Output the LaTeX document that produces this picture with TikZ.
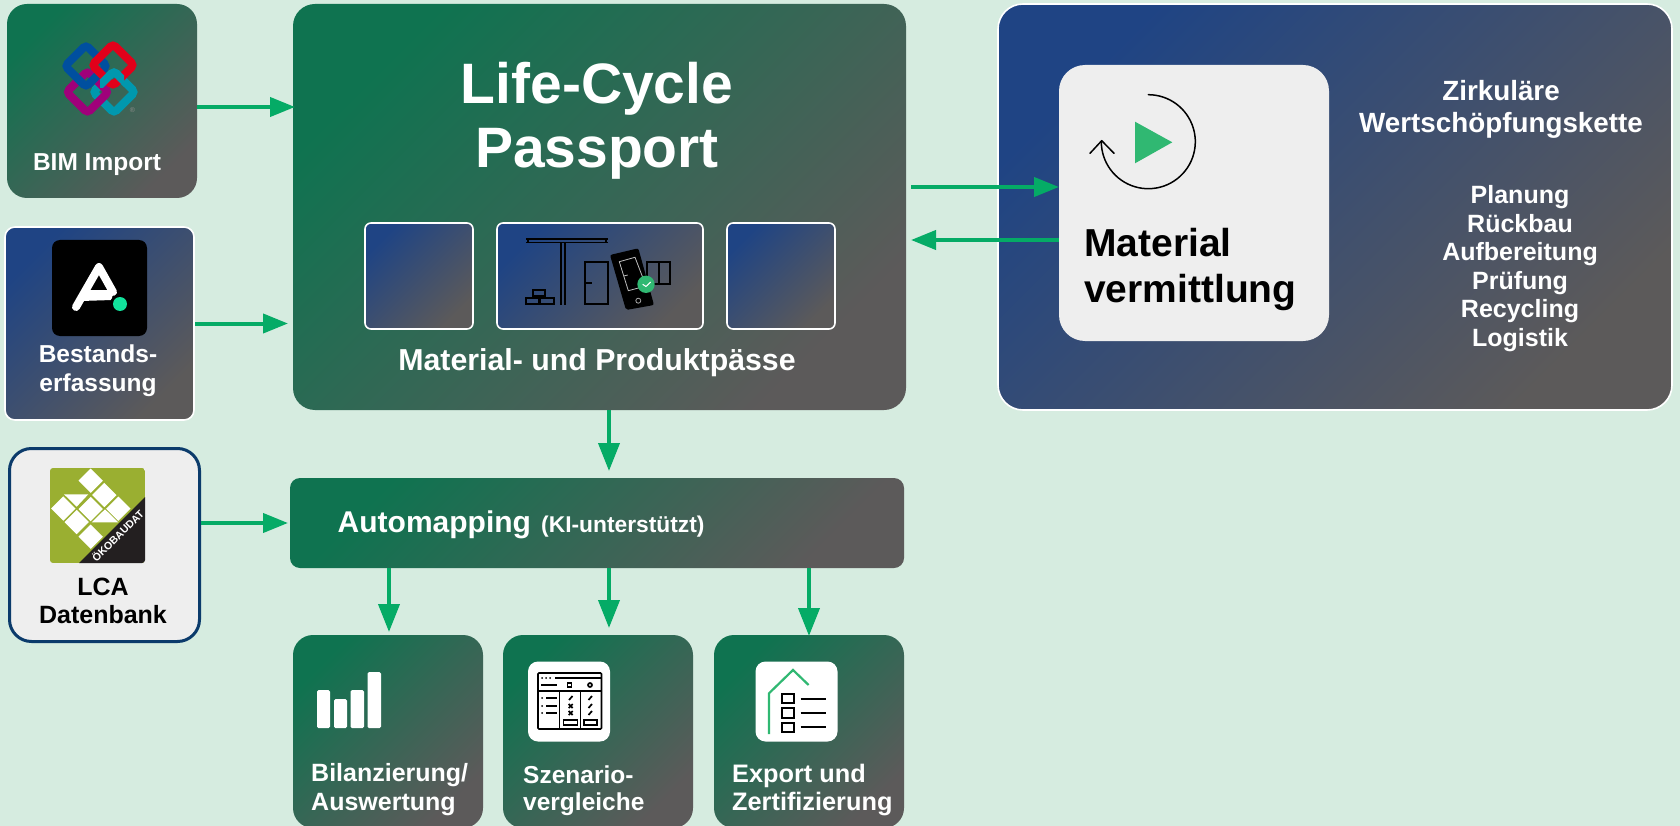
\documentclass[tikz,border=0pt]{standalone}
\usepackage{fontspec}
\setmainfont{Liberation Sans}
\usetikzlibrary{arrows.meta,calc}
\definecolor{bgc}{HTML}{D6ECE0}
\definecolor{gstart}{HTML}{0F7350}
\definecolor{gend}{HTML}{5C5A5A}
\definecolor{bstart}{HTML}{1F4484}
\definecolor{flowc}{HTML}{05AB66}
\definecolor{panel}{HTML}{EEEEEE}
\definecolor{navy}{HTML}{0B3B6B}
\definecolor{okogreen}{HTML}{9AAF31}
\definecolor{okoblack}{HTML}{231F20}
\definecolor{icongreen}{HTML}{30B872}
\definecolor{bimblue}{HTML}{004F9F}
\definecolor{bimred}{HTML}{E2001A}
\definecolor{bimpurple}{HTML}{A0007A}
\definecolor{bimteal}{HTML}{0098AE}
\definecolor{dotgreen}{HTML}{12E29C}
\tikzset{
  greenbox/.style={rectangle,rounded corners=#1,inner sep=0pt,outer sep=0pt,top color=gstart,bottom color=gend,shading angle=45},
  greenbox/.default=22pt,
  bluebox/.style={rectangle,rounded corners=#1,inner sep=0pt,outer sep=0pt,top color=bstart,bottom color=gend,shading angle=45,draw=white,line width=1.6pt},
  bluebox/.default=6pt,
  lightbox/.style={rectangle,rounded corners=26pt,inner sep=0pt,outer sep=0pt,fill=panel},
  flow/.style={draw=flowc,line width=4pt,-{Triangle[length=25pt,width=19pt]}},
  flowv/.style={draw=flowc,line width=4pt,-{Triangle[length=28pt,width=21pt]}},
  wtext/.style={text=white,font=\bfseries\fontsize{#1}{#1}\selectfont,inner sep=0pt,anchor=base},
  wtext/.default=24,
  ktext/.style={text=black,font=\bfseries\fontsize{#1}{#1}\selectfont,inner sep=0pt,anchor=base},
  bimring/.style={draw=#1,rectangle,rotate=45,minimum size=29.5pt,rounded corners=3.5pt,line width=8pt,inner sep=0pt},
  icon/.style={draw=black,line width=1.7pt},
  iconw/.style={rectangle,rounded corners=10pt,fill=white,inner sep=0pt},
  whitebar/.style={fill=white,rounded corners=1.5pt},
}
\begin{document}
\begin{tikzpicture}[x=1pt,y=-1pt]
\useasboundingbox (0,0) rectangle (1680,826);
\fill[bgc] (0,0) rectangle (1680,826);

% main boxes
\node[greenbox=20pt,minimum width=190pt,minimum height=194pt] (bim) at (102,101) {};
\node[bluebox=10pt,minimum width=189pt,minimum height=193pt] (best) at (99.5,323.5) {};
\node[rectangle,rounded corners=22pt,fill=panel,draw=navy,line width=3pt,inner sep=0pt,outer sep=0pt,minimum width=190pt,minimum height=193pt] (lca) at (104.5,545) {};
\node[greenbox=22pt,minimum width=613pt,minimum height=406pt] (lcp) at (599.5,207) {};
\node[greenbox=10pt,minimum width=614pt,minimum height=90pt] (auto) at (597,523) {};
\node[greenbox=20pt,minimum width=190pt,minimum height=193pt] (bil) at (388,731.5) {};
\node[greenbox=20pt,minimum width=190pt,minimum height=193pt] (sze) at (598,731.5) {};
\node[greenbox=20pt,minimum width=190pt,minimum height=193pt] (exp) at (809,731.5) {};
\node[bluebox=25pt,minimum width=674pt,minimum height=406pt] (circ) at (1335,207) {};
\node[lightbox,minimum width=270pt,minimum height=276pt] (mat) at (1194,203) {};
\node[bluebox=6pt,minimum width=108pt,minimum height=106pt] (pa) at (419,276) {};
\node[bluebox=6pt,minimum width=206pt,minimum height=106pt] (pb) at (600,276) {};
\node[bluebox=6pt,minimum width=108pt,minimum height=106pt] (pc) at (781,276) {};

% connectors
\coordinate (c1) at ([yshift=-6pt]bim.east);
\draw[flow,shorten >=-2pt] (c1) -- (lcp.west |- c1);
\coordinate (c2) at ([xshift=1pt]best.east);
\draw[flow,shorten >=5pt] (c2) -- (lcp.west |- c2);
\coordinate (c3) at ([yshift=22pt]lca.east);
\draw[flow,shorten >=2pt] ([xshift=1.5pt]c3) -- (auto.west |- c3);
\coordinate (c4) at ([xshift=5pt,yshift=20pt]lcp.east);
\draw[flow] (c4) -- (mat.west |- c4);
\coordinate (c5) at ([yshift=-37pt]mat.west);
\draw[flow,shorten >=5pt] (c5) -- (lcp.east |- c5);
\coordinate (c6) at ([xshift=9.5pt]lcp.south);
\draw[flowv,shorten >=7pt] (c6) -- (auto.north -| c6);
\coordinate (c7) at (auto.south -| bil.north);
\draw[flowv,shorten >=3pt] ([xshift=1pt]c7) -- ([xshift=1pt]bil.north);
\coordinate (c8) at (auto.south -| sze.north);
\draw[flowv,shorten >=7pt] ([xshift=11pt]c8) -- ([xshift=11pt]sze.north);
\coordinate (c9) at (auto.south -| exp.north);
\draw[flowv,shorten >=-1pt] (c9) -- (exp.north);

% BIM logo
\node[bimring=bimteal] (ringt) at (114,92) {};
\node[bimring=bimpurple] (ringp) at (87.5,92) {};
\node[bimring=bimblue] (ringb) at (86,66) {};
\node[bimring=bimred] (ringr) at (113,65) {};
\begin{scope}
\clip (100,68) rectangle (124,88);
\node[bimring=bimteal] (ringtb) at (114,92) {};
\end{scope}
\node[text=gend!70!white,font=\fontsize{7}{8}\selectfont,inner sep=0pt] (regm) at (132.5,110.5) {®};

% Bestand logo
\fill[black,rounded corners=8pt] (52,240) rectangle (147,336);
\draw[white,line width=8pt,line cap=round,line join=round] (76,307) -- (99,267) -- (113,292);
\fill[white] (86,290) -- (113,290) -- (112,300) -- (81,301) -- cycle;
\fill[black] (120,304) circle (10);
\fill[dotgreen] (120,304) circle (7);

% Oekobaudat logo
\begin{scope}
\clip[rounded corners=3pt] (50,468) rectangle (145,563);
\fill[okogreen] (50,468) rectangle (145,563);
\fill[okoblack] (145,497) -- (79,563) -- (145,563) -- cycle;
\foreach \cx/\cy in {90.7/480.7,104.3/495,118.3/508.7,63.3/508.5,90.7/509,76.7/522,90.7/536.7}{
  \fill[white] (\cx,\cy-12.2) -- (\cx+12.2,\cy) -- (\cx,\cy+12.2) -- (\cx-12.2,\cy) -- cycle;
}
\fill[white] (64,494.3) -- (88.3,494.3) -- (76.7,506.7) -- cycle;
\fill[white] (91.7,522.3) -- (118.3,522.3) -- (105,509.3) -- cycle;
\end{scope}
\node[text=white,font=\bfseries\fontsize{10.6}{12}\selectfont,inner sep=0pt,rotate=45] (okot) at (117.5,535.5) {ÖKOBAUDAT};

% Material pass icon
\draw[icon] (526,238.7) -- (607.7,238.7) (526,242.5) -- (607.7,242.5) (528.3,238.7) -- (528.3,242.5) (605.7,238.7) -- (605.7,242.5);
\draw[icon] (560.7,243) -- (560.7,304.5) (565.3,243) -- (565.3,304.5);
\draw[icon] (533.3,290.3) rectangle (545,296);
\draw[icon] (526,298.3) rectangle (538.7,304.3);
\draw[icon] (540.3,298.3) rectangle (553.7,304.3);
\draw[icon] (585.3,262) rectangle (607.7,304.3);
\draw[icon] (585.3,283) -- (592,283);
\draw[icon] (647.3,261.7) rectangle (669.7,284.3);
\draw[icon] (658.7,261.7) -- (658.7,284.3);
\fill[black,rounded corners=2pt] (610,255) -- (638.3,248.3) -- (654,305) -- (626,310) -- cycle;
\draw[white!75!black,line width=0.8pt] (619.3,261.7) -- (635,257.3) -- (646,286) -- (628.3,290.7) -- cycle;
\draw[white!75!black,line width=0.8pt] (623.7,276) -- (627.7,275);
\draw[white!65!black,line width=0.8pt] (638.3,300.7) circle (2.5);
\fill[icongreen] (646,284.3) circle (8.7);
\draw[white,line width=1pt] (642.7,284.3) -- (646,286.5) -- (650.7,282);

% Play icon
\draw[black,line width=1.5pt,line cap=round] plot[domain=-90:180,samples=60] ({1148.3+47*cos(\x)},{141.7+47*sin(\x)});
\draw[black,line width=1.5pt,line cap=round,line join=round] (1090,153.3) -- (1101.7,140.7) -- (1114,153.3);
\fill[icongreen] (1135,121.7) -- (1172.3,142.3) -- (1135,163.3) -- cycle;

% bars
\fill[whitebar] (317,690) rectangle (330,728);
\fill[whitebar] (334,699) rectangle (347,728);
\fill[whitebar] (350.5,690) rectangle (364,728);
\fill[whitebar] (367.5,672) rectangle (381,728);

% scenario icon
\node[iconw,minimum width=82pt,minimum height=80pt] (szeic) at (569,701.5) {};
\draw[icon,rounded corners=1pt] (538,673) rectangle (601.5,729);
\draw[icon] (538,691) -- (601.5,691) (559.5,691) -- (559.5,729) (580.5,691) -- (580.5,729);
\draw[icon,line width=1.2pt] (555,678) -- (601.5,678);
\fill[black] (542,678) circle (1) (546,678) circle (1) (550,678) circle (1);
\draw[icon] (541,685) -- (557,685);
\draw[icon] (567.5,683) rectangle (571.5,687);
\draw[icon] (590,685) circle (2);
\foreach \yy in {698,706,713}{
  \fill[black] (542,\yy) circle (1);
  \draw[icon,line width=1.4pt] (546,\yy) -- (557,\yy);
  \draw[icon] (588.5,\yy+2) -- (592,\yy-2);
}
\draw[icon] (569,700) -- (572.5,696);
\draw[icon] (568.7,704) -- (572.7,708) (572.7,704) -- (568.7,708);
\draw[icon] (568.7,711) -- (572.7,715) (572.7,711) -- (568.7,715);
\draw[icon] (563.5,720) rectangle (577.5,725);
\draw[icon] (583.7,720) rectangle (597,725);

% export icon
\node[iconw,minimum width=82pt,minimum height=80pt] (expic) at (796.5,701.5) {};
\draw[icongreen,line width=2.2pt] (769,734) -- (769,693.3) -- (793,670) -- (808.6,685);
\draw[icon,line width=2.2pt] (782,694) rectangle (794,703.3);
\draw[icon,line width=2.2pt] (782,708.3) rectangle (794,717.7);
\draw[icon,line width=2.2pt] (782,722.7) rectangle (794,732.3);
\draw[icon,line width=2.2pt] (800.7,698.7) -- (826,698.7) (800.7,713) -- (826,713) (800.7,727.3) -- (826,727.3);

% texts
\node[wtext=24.5] (tbim) at (97,171) {BIM Import};
\node[wtext=24.5] (tbest1) at (98,362) {Bestands-};
\node[wtext=24.5] (tbest2) at (98,391) {erfassung};
\node[ktext=25] (tlca1) at (103,595) {LCA};
\node[ktext=25] (tlca2) at (103,623.5) {Datenbank};
\node[wtext=57] (tl1) at (597,104) {Life-Cycle};
\node[wtext=57] (tl2) at (597,168) {Passport};
\node[wtext=30.3] (tmp) at (597,370) {Material- und Produktpässe};
\node[wtext=30,anchor=base west] (tam) at (337.5,532) {Automapping};
\node[wtext=22.8,anchor=base west] (tki) at (541,532) {(KI-unterstützt)};
\node[wtext=25,anchor=base west] (tb1) at (311,781) {Bilanzierung/};
\node[wtext=25,anchor=base west] (tb2) at (311,810) {Auswertung};
\node[wtext=24.5,anchor=base west] (ts1) at (523,783) {Szenario-};
\node[wtext=24.5,anchor=base west] (ts2) at (523,810) {vergleiche};
\node[wtext=25.3,anchor=base west] (te1) at (732,782) {Export und};
\node[wtext=25.3,anchor=base west] (te2) at (732,810) {Zertifizierung};
\node[ktext=39,anchor=base west] (tm1) at (1084,257) {Material};
\node[ktext=39,anchor=base west] (tm2) at (1084,302) {vermittlung};
\node[wtext=27.8] (tz1) at (1501,101) {Zirkuläre};
\node[wtext=27.8] (tz2) at (1501,133) {Wertschöpfungskette};
\node[wtext=25] (tp1) at (1520,204) {Planung};
\node[wtext=25] (tp2) at (1520,232.5) {Rückbau};
\node[wtext=25] (tp3) at (1520,261) {Aufbereitung};
\node[wtext=25] (tp4) at (1520,289.5) {Prüfung};
\node[wtext=25] (tp5) at (1520,317.5) {Recycling};
\node[wtext=25] (tp6) at (1520,346.5) {Logistik};
\end{tikzpicture}
\end{document}
